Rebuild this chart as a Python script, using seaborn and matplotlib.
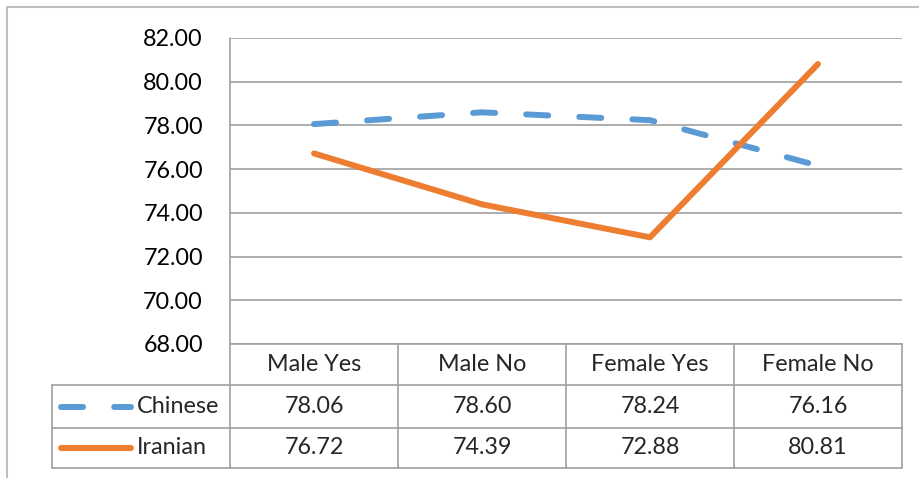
import matplotlib
matplotlib.use("Agg")
import matplotlib.pyplot as plt
from matplotlib.lines import Line2D
import seaborn as sns
import pandas as pd

categories = ["Male Yes", "Male No", "Female Yes", "Female No"]
series_names = ["Chinese", "Iranian"]
chinese = [78.06, 78.60, 78.24, 76.16]
iranian = [76.72, 74.39, 72.88, 80.81]
y_ticks = [68, 70, 72, 74, 76, 78, 80, 82]

colors = {"Chinese": "#5B9BD5", "Iranian": "#ED7D31"}

sns.set_theme(style="white")
plt.rcParams["font.family"] = ["Lato", "DejaVu Sans"]

W, H = 919, 478
fig = plt.figure(figsize=(W / 100, H / 100), dpi=100)

def fx(px):
    return px / W

def fy(py):
    return 1 - py / H

# plot area in pixels
L, R, T, B = 230, 902, 38, 344
ax = fig.add_axes([fx(L), fy(B), fx(R) - fx(L), fy(T) - fy(B)])

df = pd.DataFrame({
    "pos": list(range(len(categories))) * 2,
    "value": chinese + iranian,
    "series": ["Chinese"] * len(categories) + ["Iranian"] * len(categories),
})

LW = 4.3
DASH = (3.7, 5.2)
sns.lineplot(data=df, x="pos", y="value", hue="series", style="series",
             palette=colors, dashes={"Chinese": DASH, "Iranian": ""},
             linewidth=LW, legend=False, ax=ax, sort=False)
for ln in ax.get_lines():
    ln.set_solid_capstyle("round")
    ln.set_dash_capstyle("round")
    ln.set_solid_joinstyle("round")

fs = 16.8
ax.set_xlim(-0.5, len(categories) - 0.5)
ax.set_ylim(68, 82)
ax.set_yticks(y_ticks)
ax.set_yticklabels([f"{v:.2f}" for v in y_ticks], fontsize=fs, color="#000000")
ax.set_xticks([])
ax.set_xlabel("")
ax.set_ylabel("")
ax.tick_params(axis="y", length=0, pad=19.5)
ax.grid(axis="y", color="#a0a0a0", linewidth=1.2)
ax.grid(axis="x", visible=False)
for s in ["top", "right", "bottom", "left"]:
    ax.spines[s].set_visible(False)

grid_c = "#a0a0a0"

def hline(y, x0, x1, c=grid_c, lw=1.2):
    fig.add_artist(Line2D([fx(x0), fx(x1)], [fy(y), fy(y)], color=c, linewidth=lw))

def vline(x, y0, y1, c=grid_c, lw=1.2):
    fig.add_artist(Line2D([fx(x), fx(x)], [fy(y0), fy(y1)], color=c, linewidth=lw))

# outer chart border
fig.add_artist(Line2D([fx(7), fx(7), fx(919)], [fy(478), fy(7), fy(7)],
                      color="#bfbfbf", linewidth=1.5))

# data table
rows_y = [344, 385, 428, 468]
TL = 52
col_w = (R - L) / len(categories)
col_x = [L + i * col_w for i in range(len(categories) + 1)]

hline(344, L, R)
for y in rows_y[1:]:
    hline(y, TL, R)
vline(TL, 385, 468)
vline(L, T, 468)
for x in col_x[1:]:
    vline(x, 344, 468)

header_y = (rows_y[0] + rows_y[1]) / 2
for i, cat in enumerate(categories):
    fig.text(fx(col_x[i] + col_w / 2), fy(header_y), cat, ha="center",
             va="center", fontsize=fs)

values = {"Chinese": chinese, "Iranian": iranian}
for r, name in enumerate(series_names):
    yc = (rows_y[r + 1] + rows_y[r + 2]) / 2
    for i, v in enumerate(values[name]):
        fig.text(fx(col_x[i] + col_w / 2), fy(yc), f"{v:.2f}", ha="center",
                 va="center", fontsize=fs)
    fig.text(fx(137), fy(yc), name, ha="left", va="center", fontsize=fs)
    key = Line2D([fx(61), fx(131)], [fy(yc), fy(yc)], color=colors[name],
                 linewidth=LW, solid_capstyle="round", dash_capstyle="round")
    if name == "Chinese":
        key.set_dashes(DASH)
    fig.add_artist(key)

fig.savefig("out.png", dpi=100)
